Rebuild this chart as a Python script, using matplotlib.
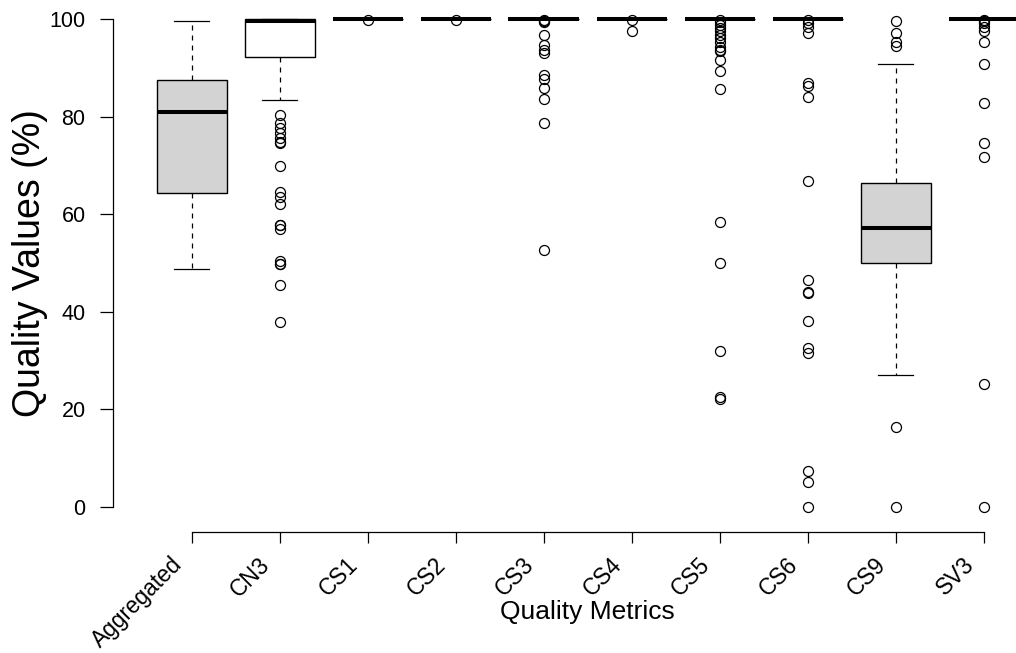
import matplotlib
matplotlib.use("Agg")
import matplotlib.pyplot as plt
from matplotlib.transforms import ScaledTranslation
from matplotlib import font_manager

plt.rcParams['font.family'] = ['Liberation Sans', 'DejaVu Sans']

# Quality metrics and their box summaries (percent)
metrics = ["Aggregated", "CN3", "CS1", "CS2", "CS3", "CS4", "CS5", "CS6", "CS9", "SV3"]
medians = [81.0, 99.6, 100, 100, 100, 100, 100, 100, 57.1, 100]
q1s = [64.3, 92.2, 100, 100, 100, 100, 100, 100, 50.1, 100]
q3s = [87.5, 100, 100, 100, 100, 100, 100, 100, 66.5, 100]
whisker_low = [48.8, 83.5, 100, 100, 100, 100, 100, 100, 27.0, 100]
whisker_high = [99.6, 100, 100, 100, 100, 100, 100, 100, 90.8, 100]

# Outlying observations per metric
out_aggregated = []
out_cn3 = [80.4, 78.7, 77.8, 76.7, 75.6, 74.9, 74.6, 70.0, 64.6, 63.6, 62.2,
           57.7, 57.7, 57.0, 50.4, 49.8, 49.8, 45.5, 37.8]
out_cs1 = [99.9]
out_cs2 = [99.9]
out_cs3 = [99.9, 99.7, 99.4, 96.8, 94.7, 93.8, 93.1, 88.6, 87.7, 86.0, 83.6,
           78.7, 52.7]
out_cs4 = [99.9, 97.5]
out_cs5 = [99.9, 99.5, 98.8, 98.2, 97.5, 96.8, 96.1, 95.4, 94.4, 93.7, 93.4,
           91.6, 89.4, 85.8, 58.4, 49.9, 32.0, 22.5, 22.1]
out_cs6 = [99.9, 99.2, 98.5, 97.1, 87.0, 86.3, 84.1, 66.8, 46.5, 44.1, 43.8,
           38.2, 32.5, 31.5, 7.3, 5.1, 0.0]
out_cs9 = [99.7, 97.1, 95.4, 94.5, 16.4, 0.0]
out_sv3 = [99.9, 99.7, 99.2, 98.5, 97.5, 95.4, 90.8, 82.8, 74.7, 71.7, 25.2, 0.0]

outliers = [out_aggregated, out_cn3, out_cs1, out_cs2, out_cs3, out_cs4,
            out_cs5, out_cs6, out_cs9, out_sv3]
box_colors = ["#D3D3D3", "white", "#D3D3D3", "#D3D3D3", "#D3D3D3", "#D3D3D3",
              "#D3D3D3", "#D3D3D3", "#D3D3D3", "#D3D3D3"]

# Narrow face for the horizontal axis title, if present
installed = {f.name for f in font_manager.fontManager.ttflist}
xlabel_family = ("Liberation Sans Narrow" if "Liberation Sans Narrow" in installed
                 else "Liberation Sans")
xlabel_size = 23.5 if xlabel_family == "Liberation Sans Narrow" else 19

W, H = 1016, 653
fig = plt.figure(figsize=(W / 100, H / 100), dpi=100)
ax_left, ax_right, ax_top, ax_bottom = 112.5, 1016, 0, 532.3
ax = fig.add_axes([ax_left / W, (H - ax_bottom) / H,
                   (ax_right - ax_left) / W, (ax_bottom - ax_top) / H])

stats = []
for name, med, q1, q3, lo, hi, fl in zip(metrics, medians, q1s, q3s,
                                         whisker_low, whisker_high, outliers):
    stats.append(dict(label=name, med=med, q1=q1, q3=q3,
                      whislo=lo, whishi=hi, fliers=fl))

positions = list(range(1, len(metrics) + 1))
bp = ax.bxp(stats, positions=positions, widths=0.8, patch_artist=True,
            boxprops=dict(edgecolor="black", linewidth=1.0),
            medianprops=dict(color="black", linewidth=2.9, solid_capstyle="butt"),
            whiskerprops=dict(color="black", linewidth=0.9, linestyle=(0, (4, 4))),
            capprops=dict(color="black", linewidth=0.9),
            capwidths=0.4,
            flierprops=dict(marker="o", markerfacecolor="none",
                            markeredgecolor="black", markersize=7.2,
                            markeredgewidth=0.9, linestyle="none"))
for patch, c in zip(bp["boxes"], box_colors):
    patch.set_facecolor(c)

ax.set_xlim(1 - (191.7 - ax_left) / 88.0, 1 + (ax_right - 191.7) / 88.0)
ax.set_ylim(-(ax_bottom - 506.7) / 4.874, 506.7 / 4.874)

for s in ("top", "right"):
    ax.spines[s].set_visible(False)
ax.spines["left"].set_bounds(0, 100)
ax.spines["bottom"].set_bounds(1, len(metrics))
ax.spines["left"].set_linewidth(0.9)
ax.spines["bottom"].set_linewidth(0.9)

ax.set_yticks([0, 20, 40, 60, 80, 100])
ax.tick_params(axis="y", length=9.4, width=0.9, pad=10, labelsize=15.5)
ax.set_xticks(positions)
ax.set_xticklabels([])
ax.tick_params(axis="x", length=7.9, width=0.9)

# Rotated category labels ending just left of each tick
offset = ScaledTranslation(-13 / 100, 0, fig.dpi_scale_trans)
for p, name in zip(positions, metrics):
    ax.text(p, -(561 - ax_bottom) / (ax_bottom - ax_top), name,
            transform=ax.get_xaxis_transform() + offset,
            rotation=45, rotation_mode="anchor", ha="right", va="center",
            fontsize=16.3)

fig.text((191.7 + 4.5 * 88) / W, 1 - 612 / H, "Quality Metrics",
         ha="center", va="center", fontsize=xlabel_size,
         family=[xlabel_family, "DejaVu Sans"])
fig.text(30 / W, 1 - 263 / H, "Quality Values (%)", rotation=90,
         ha="center", va="center", fontsize=27)

fig.savefig("out.png", dpi=100)
